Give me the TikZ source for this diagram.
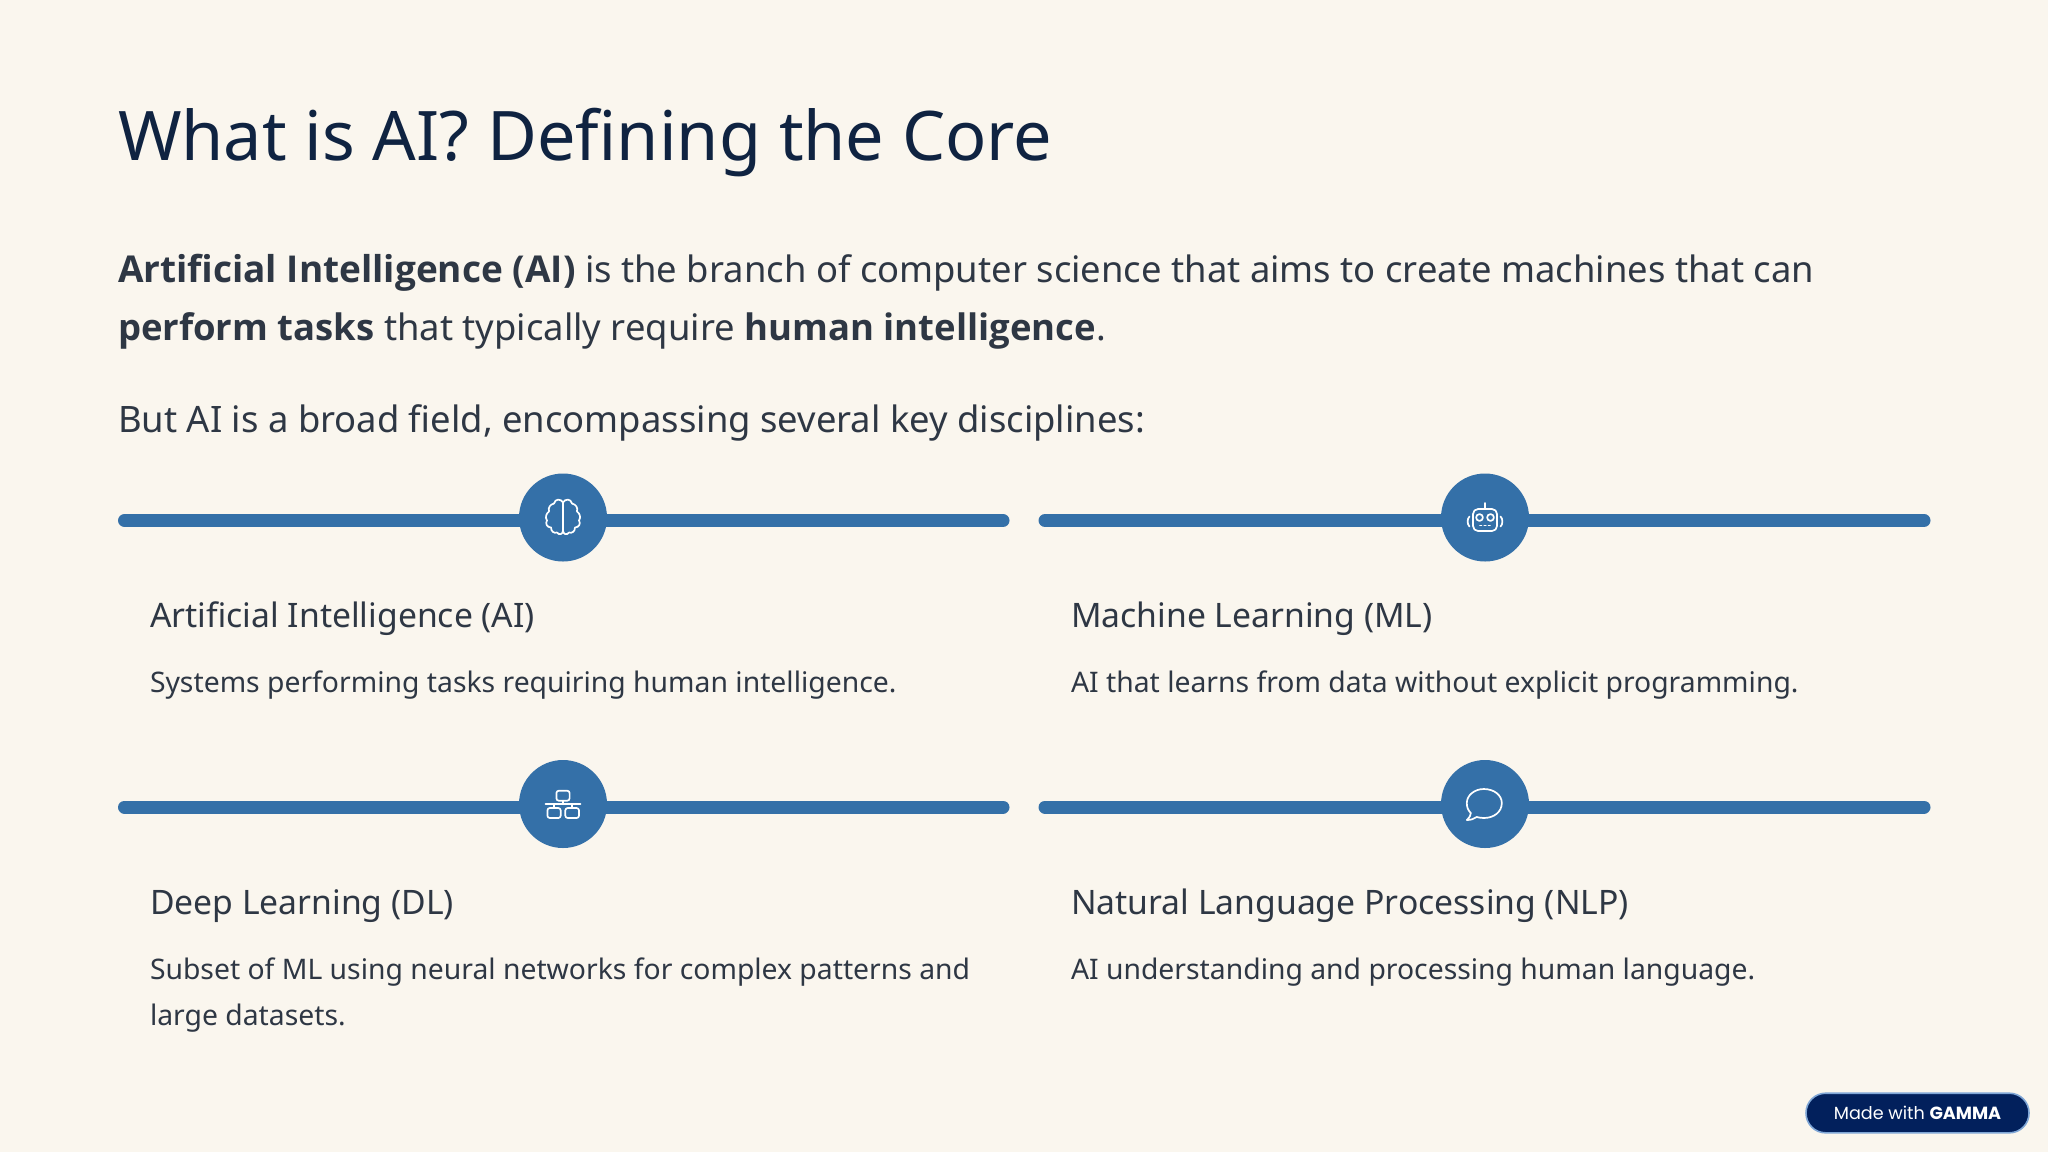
\documentclass[tikz,border=0pt]{standalone}
\usepackage{fontspec}
\setmainfont{Noto Sans}
\newfontfamily\boldish{Open Sans}
\newcommand{\bt}[1]{{\boldish\bfseries\fontsize{18.5}{24}\selectfont #1}}
\newcommand{\btb}[1]{{\boldish\bfseries\fontsize{18.25}{24}\selectfont #1}}
\newfontfamily\badgefont{Poppins}
\definecolor{bgc}{HTML}{FAF6EE}
\definecolor{titlec}{HTML}{0F2341}
\definecolor{textc}{HTML}{2E3744}
\definecolor{bluec}{HTML}{3470A8}
\definecolor{badgec}{HTML}{02205C}
\definecolor{badgeedge}{HTML}{7FA6D6}
\tikzset{
  txt/.style={anchor=base west,inner sep=0pt,outer sep=0pt,text=textc},
  titletxt/.style={txt,text=titlec,font=\fontsize{34.2}{40}\selectfont},
  bodytxt/.style={txt,font=\fontsize{18.2}{24}\selectfont},
  headtxt/.style={txt,font=\fontsize{16.85}{22}\selectfont},
  desctxt/.style={txt,font=\fontsize{14.16}{20}\selectfont},
  bar/.style={draw=bluec,line width=6.5pt,line cap=round},
  disc/.style={circle,fill=bluec,minimum size=44pt,inner sep=0pt},
  icon/.style={draw=white,line width=0.85pt,line join=round,line cap=round,fill=none},
}
\begin{document}
\begin{tikzpicture}[x=0.5pt,y=-0.5pt]
\useasboundingbox (0,0) rectangle (2048,1152);
\fill[bgc] (0,0) rectangle (2048,1152);

\node[titletxt] (title) at (118,160.5) {What is AI? Defining the Core};
\node[bodytxt] (b1) at (118,282) {\bt{Artificial Intelligence (AI)} is the branch of computer science that aims to create machines that can};
\node[bodytxt] (b2) at (118,340.5) {\btb{perform tasks} that typically require \btb{human intelligence}.};
\node[bodytxt] (b3) at (118,432.5) {But AI is a broad field, encompassing several key disciplines:};

% bars
\coordinate (a1) at (124.5,520.5); \coordinate (a2) at (1003,520.5);
\coordinate (c1) at (1045,520.5); \coordinate (c2) at (1924,520.5);
\coordinate (d1) at (124.5,807); \coordinate (d2) at (1003,807);
\coordinate (e1) at (1045,807); \coordinate (e2) at (1924,807);
\draw[bar] (a1) -- (a2);
\draw[bar] (c1) -- (c2);
\draw[bar] (d1) -- (d2);
\draw[bar] (e1) -- (e2);
\node[disc] (n1) at (563,517.5) {};
\node[disc] (n2) at (1485,517.5) {};
\node[disc] (n3) at (563,804) {};
\node[disc] (n4) at (1485,804) {};

% brain icon
\begin{scope}[shift={(n1.center)}]
\draw[icon] (0,-15) .. controls (-2,-19) and (-8,-19) .. (-9,-14)
  .. controls (-13,-13) and (-15,-10) .. (-14,-6)
  .. controls (-17,-4) and (-18,0) .. (-16,3)
  .. controls (-18,6) and (-16,10) .. (-12,10)
  .. controls (-12,14) and (-9,16) .. (-6,15)
  .. controls (-4,18) and (0,17) .. (0,13) -- cycle;
\draw[icon] (0,-15) .. controls (2,-19) and (8,-19) .. (9,-14)
  .. controls (13,-13) and (15,-10) .. (14,-6)
  .. controls (17,-4) and (18,0) .. (16,3)
  .. controls (18,6) and (16,10) .. (12,10)
  .. controls (12,14) and (9,16) .. (6,15)
  .. controls (4,18) and (0,17) .. (0,13);
\end{scope}

% robot icon
\begin{scope}[shift={(n2.center)}]
\draw[icon,rounded corners=2.5pt] (-12,-8.5) rectangle (12,13.5);
\draw[icon] (0,-8.5) -- (0,-14.5);
\draw[icon] (-5.5,0) circle[radius=1.7pt];
\draw[icon] (5.5,0) circle[radius=1.7pt];
\draw[icon] (-5,8) -- (-3.5,8) (-0.8,8) -- (0.8,8) (3.5,8) -- (5,8);
\draw[icon] (-15.5,-1) .. controls (-18,1) and (-18,7) .. (-15.5,9);
\draw[icon] (15.5,-1) .. controls (18,1) and (18,7) .. (15.5,9);
\end{scope}

% network icon
\begin{scope}[shift={(n3.center)}]
\draw[icon,rounded corners=1.2pt] (-6.6,-13.3) rectangle (6.6,-3.3);
\draw[icon] (0,-3.3) -- (0,0.3);
\draw[icon] (-17.5,0.3) -- (17.5,0.3);
\draw[icon] (-9,0.3) -- (-9,4);
\draw[icon] (9,0.3) -- (9,4);
\draw[icon,rounded corners=1.2pt] (-15.6,4) rectangle (-2.3,14);
\draw[icon,rounded corners=1.2pt] (2.3,4) rectangle (16,14);
\end{scope}

% speech bubble icon
\begin{scope}[shift={(n4.center)},xshift=-0.6pt]
\draw[icon] (-17,16) .. controls (-14,13) and (-13,11) .. (-13,9)
  .. controls (-16,6) and (-17,3) .. (-17,-1)
  .. controls (-17,-9) and (-9,-15) .. (0,-15)
  .. controls (10,-15) and (18,-9) .. (18,-1)
  .. controls (18,8) and (10,14) .. (0,14)
  .. controls (-3,14) and (-5,13.5) .. (-7,13)
  .. controls (-10,15) and (-13,16) .. (-17,16) -- cycle;
\end{scope}

\node[headtxt] (h1) at (150,627.5) {Artificial Intelligence (AI)};
\node[desctxt] (t1) at (150,692) {Systems performing tasks requiring human intelligence.};
\node[headtxt] (h2) at (1071,627.5) {Machine Learning (ML)};
\node[desctxt] (t2) at (1071,692) {AI that learns from data without explicit programming.};
\node[headtxt] (h3) at (150,914.5) {Deep Learning (DL)};
\node[desctxt] (t3a) at (150,979.5) {Subset of ML using neural networks for complex patterns and};
\node[desctxt] (t3b) at (150,1025.5) {large datasets.};
\node[headtxt] (h4) at (1071,914.5) {Natural Language Processing (NLP)};
\node[desctxt] (t4) at (1071,979.5) {AI understanding and processing human language.};

\node[draw=badgeedge,line width=0.8pt,fill=badgec,rounded corners=9.8pt,minimum width=111.5pt,minimum height=19.8pt,inner sep=0pt,text=white,font=\badgefont\fontsize{8.8}{11}\selectfont] (badge) at (1917.5,1113) {Made with \textbf{GAMMA}};
\end{tikzpicture}
\end{document}
